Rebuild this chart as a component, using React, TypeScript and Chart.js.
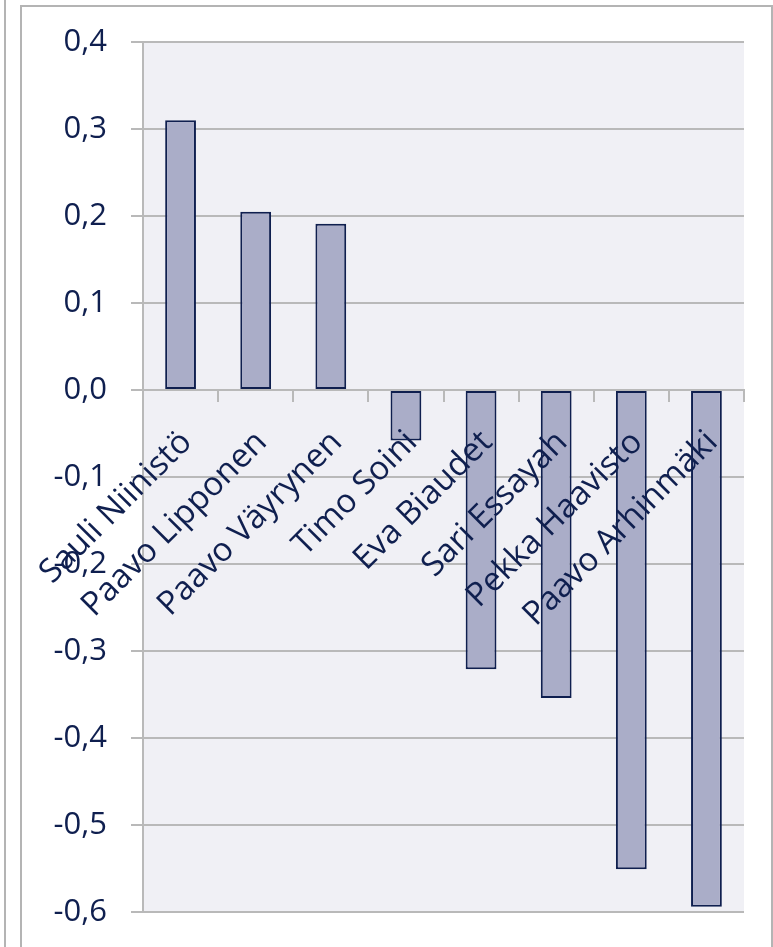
import React, { useEffect, useRef } from 'react';
import { Chart, registerables } from 'chart.js';

Chart.register(...registerables);

const categories = [
  'Sauli Niinistö',
  'Paavo Lipponen',
  'Paavo Väyrynen',
  'Timo Soini',
  'Eva Biaudet',
  'Sari Essayah',
  'Pekka Haavisto',
  'Paavo Arhinmäki',
];
const values = [0.31, 0.205, 0.191, -0.058, -0.321, -0.354, -0.551, -0.594];
const yTicks = [0.4, 0.3, 0.2, 0.1, 0.0, -0.1, -0.2, -0.3, -0.4, -0.5, -0.6];

const TEXT = '#0F1F4F';
const GRID = '#B9B9B9';
const FONT = 'Open Sans';

const fmt = (v: number) => {
  const r = Math.round(v * 10) / 10;
  const s = Math.abs(r).toFixed(1).replace('.', ',');
  return (r < 0 ? '-' : '') + s;
};

const plotBg = {
  id: 'plotBg',
  beforeDraw(chart: any) {
    const { ctx, chartArea } = chart;
    if (!chartArea) return;
    ctx.save();
    ctx.fillStyle = '#F0F0F5';
    ctx.fillRect(chartArea.left, chartArea.top, chartArea.right - chartArea.left, chartArea.bottom - chartArea.top);
    ctx.restore();
  },
};

export default function App() {
  const ref = useRef<HTMLCanvasElement>(null);

  useEffect(() => {
    if (!ref.current) return;
    const chart = new Chart(ref.current, {
      type: 'bar',
      data: {
        labels: categories,
        datasets: [
          {
            data: values,
            backgroundColor: '#AAADC8',
            borderColor: '#0F1F4F',
            borderWidth: 2,
            borderSkipped: false,
            barPercentage: 0.41,
            categoryPercentage: 1,
          },
        ],
      },
      options: {
        responsive: false,
        animation: false,
        layout: { padding: { top: 42, right: 29, bottom: 35, left: 0 } },
        plugins: { legend: { display: false }, tooltip: { enabled: false } },
        scales: {
          x: {
            type: 'category',
            position: { y: 0 } as any,
            offset: true,
            grid: {
              offset: true,
              drawOnChartArea: false,
              drawTicks: true,
              tickLength: 11,
              color: GRID,
              lineWidth: 2,
            },
            border: { display: true, color: GRID, width: 2 },
            ticks: {
              z: 1,
              autoSkip: false,
              minRotation: 45,
              maxRotation: 45,
              padding: 22,
              labelOffset: 6,
              color: TEXT,
              font: { family: FONT, size: 33, weight: '500' as any },
            },
            afterFit: (s: any) => {
              s.height = 0;
              s.paddingLeft = 0;
              s.paddingRight = 0;
            },
          },
          y: {
            min: -0.6,
            max: 0.4,
            afterBuildTicks: (s: any) => {
              s.ticks = yTicks.map((v) => ({ value: v }));
            },
            ticks: {
              padding: 24,
              color: TEXT,
              font: { family: FONT, size: 31, weight: '500' as any },
              callback: (v: any) => fmt(Number(v)),
            },
            grid: { color: GRID, lineWidth: 2, tickLength: 12, drawTicks: true },
            border: { display: true, color: GRID, width: 2 },
            afterFit: (s: any) => {
              s.width = 143;
              s.paddingTop = 0;
              s.paddingBottom = 0;
            },
          },
        },
      },
      plugins: [plotBg],
    });
    return () => chart.destroy();
  }, []);

  return (
    <div style={{ position: 'fixed', left: 0, top: 0, width: 773, height: 947, overflow: 'hidden', background: '#fff' }}>
      <div style={{ position: 'absolute', left: 4, top: 0, width: 2, height: 947, background: '#B4B4B4' }} />
      <div
        style={{
          position: 'absolute',
          left: 20,
          top: 5,
          width: 753,
          height: 1100,
          boxSizing: 'border-box',
          border: '2px solid #B4B4B4',
        }}
      />
      <canvas ref={ref} width={773} height={947} style={{ position: 'absolute', left: 0, top: 0, width: 773, height: 947, display: 'block' }} />
    </div>
  );
}
